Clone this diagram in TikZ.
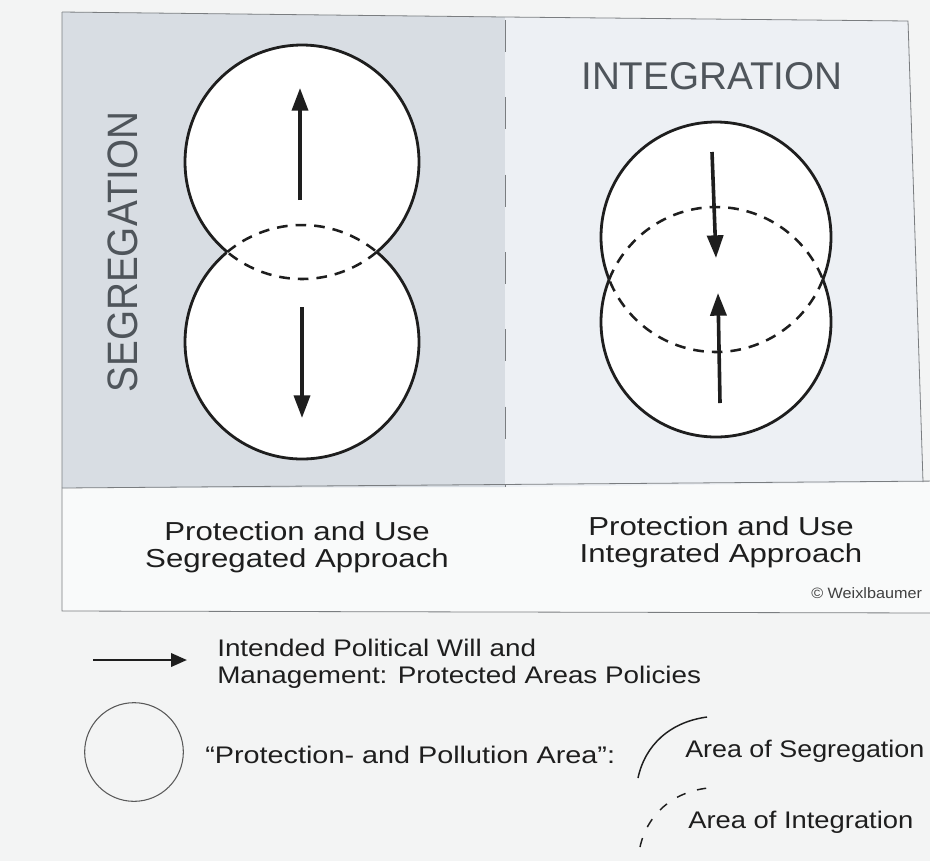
\documentclass[tikz,border=0pt]{standalone}
\usepackage{fontspec}
\setmainfont{Liberation Sans}
\usepackage{graphicx}
\usetikzlibrary{arrows.meta}
\definecolor{pagebg}{HTML}{F3F4F4}
\definecolor{segbg}{HTML}{D8DDE3}
\definecolor{intbg}{HTML}{EDF0F4}
\definecolor{capbg}{HTML}{F9FAFA}
\definecolor{framec}{HTML}{7A7D80}
\definecolor{titlec}{HTML}{4F555B}
\definecolor{inkc}{HTML}{1E1E1E}
\newcommand{\wx}[2][1.16]{\scalebox{#1}[1]{#2}}
\begin{document}
\begin{tikzpicture}[x=0.75pt,y=-0.75pt,
  frameline/.style={draw=framec, line width=0.6pt},
  solidarc/.style={draw=inkc, line width=2.1pt},
  dasharc/.style={draw=inkc, line width=1.9pt, dash pattern=on 8pt off 6pt},
  policy/.style={draw=inkc, line width=2.7pt, -{Triangle[length=17pt,width=12pt]}},
  legarrow/.style={draw=inkc, line width=2pt, -{Triangle[length=12pt,width=10pt]}},
  legarc/.style={draw=inkc, line width=1.1pt},
  legcircle/.style={draw=gray!70!black, line width=0.8pt, circle, minimum size=74pt, inner sep=0pt},
  titletext/.style={text=titlec, font=\fontsize{29pt}{34pt}\selectfont, inner sep=0pt},
  captext/.style={text=inkc, font=\fontsize{19.5pt}{20.25pt}\selectfont, align=center, inner sep=0pt},
  legtext/.style={text=inkc, font=\fontsize{18pt}{20.25pt}\selectfont, align=left, inner sep=0pt},
  copytext/.style={text=inkc!85, font=\fontsize{11.25pt}{13pt}\selectfont, inner sep=0pt},
]
\useasboundingbox (0,0) rectangle (930,861);
\fill[pagebg] (0,0) rectangle (930,861);
% panels
\fill[capbg] (62,488) -- (940,481) -- (940,613) -- (62,611) -- cycle;
\fill[segbg] (62,12) -- (505,17) -- (505,487) -- (62,488) -- cycle;
\fill[intbg] (505,17) -- (908,21) -- (923,482) -- (505,487) -- cycle;
\draw[frameline] (62,12) -- (505,17) -- (908,21) -- (923,482);
\draw[frameline] (62,12) -- (62,611) -- (940,613);
\draw[frameline] (62,488) -- (940,481);
\draw[frameline, dash pattern=on 24pt off 34pt] (505,20) -- (505,487);

% segregation circles
\fill[white] plot[domain=0:360, samples=180] ({302+117*cos(\x)},{162+117*sin(\x)}) -- cycle;
\fill[white] plot[domain=0:360, samples=180] ({302+117*cos(\x)},{342+117*sin(\x)}) -- cycle;
\draw[solidarc] plot[domain=129.73:410.27, samples=150] ({302+117*cos(\x)},{162+117*sin(\x)});
\draw[solidarc] plot[domain=-50.27:229.73, samples=150] ({302+117*cos(\x)},{342+117*sin(\x)});
\draw[dasharc] plot[domain=50.27:129.73, samples=60] ({302+117*cos(\x)},{162+117*sin(\x)});
\draw[dasharc] plot[domain=-129.73:-50.27, samples=60] ({302+117*cos(\x)},{342+117*sin(\x)});

% integration circles
\fill[white] plot[domain=0:360, samples=180] ({716+115*cos(\x)},{237+115*sin(\x)}) -- cycle;
\fill[white] plot[domain=0:360, samples=180] ({716+115*cos(\x)},{322+115*sin(\x)}) -- cycle;
\draw[solidarc] plot[domain=158.32:381.68, samples=150] ({716+115*cos(\x)},{237+115*sin(\x)});
\draw[solidarc] plot[domain=-21.68:201.68, samples=150] ({716+115*cos(\x)},{322+115*sin(\x)});
\draw[dasharc] plot[domain=21.68:158.32, samples=90] ({716+115*cos(\x)},{237+115*sin(\x)});
\draw[dasharc] plot[domain=-158.32:-21.68, samples=90] ({716+115*cos(\x)},{322+115*sin(\x)});

% arrows
\coordinate (sUa) at (300,200); \coordinate (sUb) at (300,88);
\coordinate (sDa) at (302,307); \coordinate (sDb) at (302,418);
\coordinate (iDa) at (712,152); \coordinate (iDb) at (716,258);
\coordinate (iUa) at (720,403); \coordinate (iUb) at (718,293);
\draw[policy] (sUa) -- (sUb);
\draw[policy] (sDa) -- (sDb);
\draw[policy] (iDa) -- (iDb);
\draw[policy] (iUa) -- (iUb);

% titles
\node[titletext, rotate=90] (seg) at (123,252) {\scalebox{1}[1.1]{SEGREGATION}};
\node[titletext] (int) at (712,76) {INTEGRATION};

% captions
\node[captext] (capS) at (297,547) {\wx[1.2]{Protection and Use}\\\wx[1.2]{Segregated Approach}};
\node[captext] (capI) at (721,542) {\wx[1.2]{Protection and Use}\\\wx[1.2]{Integrated Approach}};
\node[copytext, anchor=base west] (copy) at (811,598) {\wx[1.08]{© Weixlbaumer}};

% legend
\coordinate (lAa) at (93,660); \coordinate (lAb) at (187,660);
\draw[legarrow] (lAa) -- (lAb);
\node[legtext, anchor=west] (legA) at (217,664) {\wx{Intended Political Will and}\\\wx{Management: Protected Areas Policies}};
\node[legcircle] (legC) at (134,752) {};
\node[legtext, anchor=base west] (legP) at (205,763) {\wx[1.2]{“Protection- and Pollution Area”:}};
\coordinate (lSa) at (638,778); \coordinate (lSb) at (707,717);
\draw[legarc] (lSa) .. controls (645,745) and (670,722) .. (lSb);
\node[legtext, anchor=base west] (legS) at (685,757) {\wx[1.12]{Area of Segregation}};
\coordinate (lIa) at (640,847); \coordinate (lIb) at (708,788);
\draw[legarc, dash pattern=on 7pt off 9pt] (lIa) .. controls (647,815) and (672,792) .. (lIb);
\node[legtext, anchor=base west] (legI) at (688,828) {\wx[1.14]{Area of Integration}};
\end{tikzpicture}
\end{document}
